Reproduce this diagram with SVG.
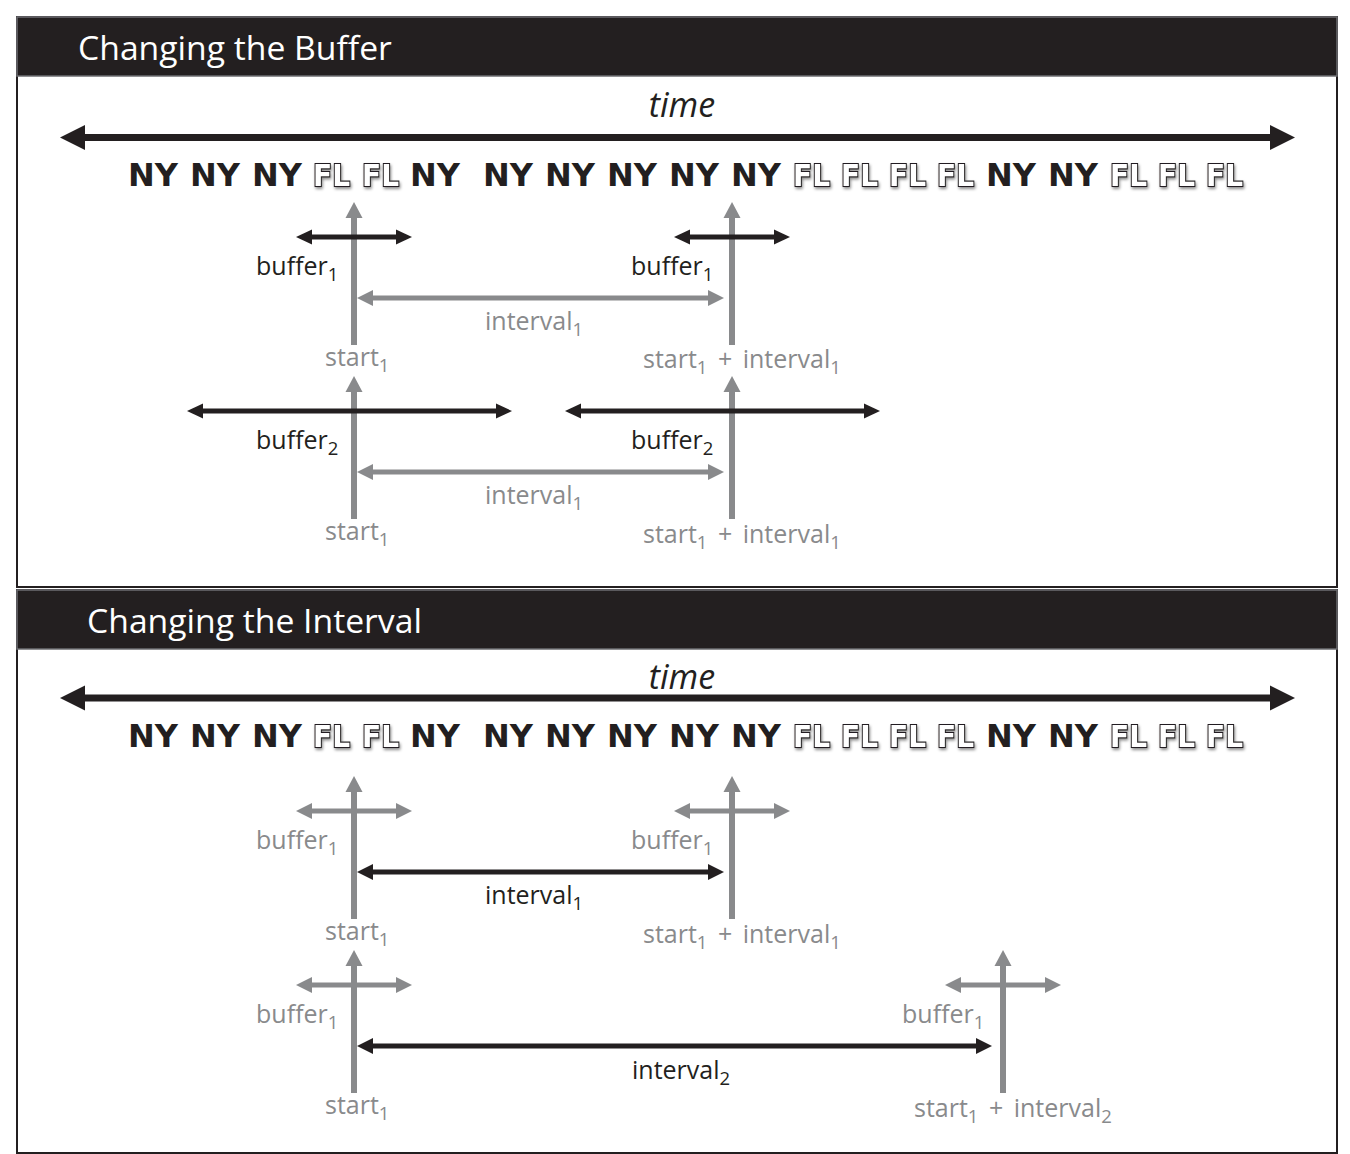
<svg xmlns="http://www.w3.org/2000/svg" width="1350" height="1154" viewBox="0 0 1350 1154">
<defs>
<style>
.hdr{fill:#231f20;stroke:#6d6e71;stroke-width:1.5}
.panel{fill:#ffffff;stroke:#231f20;stroke-width:2}
.htxt{font-family:"Open Sans","Noto Sans",sans-serif;font-size:33.7px;fill:#ffffff}
.time{font-family:"Open Sans","Noto Sans",sans-serif;font-style:italic;font-size:34px;fill:#231f20}
.ny{font-family:"DejaVu Sans",sans-serif;font-weight:bold;font-size:32px;fill:#231f20}
.fl{font-family:"DejaVu Sans",sans-serif;font-weight:bold;font-size:31px;fill:#ffffff;stroke:#231f20;stroke-width:2.2;paint-order:stroke}
.lbl{font-family:"Open Sans","Noto Sans",sans-serif;font-size:25px}
.blk{fill:#231f20}
.gry{fill:#898a8c}
.sub{font-size:18.5px}
.plus{word-spacing:4px}
.lb{stroke:#231f20;stroke-width:5;fill:none}
.lg{stroke:#898a8c;stroke-width:5;fill:none}
.lv{stroke:#898a8c;stroke-width:6;fill:none}
.lt{stroke:#231f20;stroke-width:7;fill:none}
</style>
<marker id="mBig" markerUnits="userSpaceOnUse" viewBox="0 -13 26 26" markerWidth="26" markerHeight="26" refX="0" refY="0" orient="auto-start-reverse"><path d="M0,-12.5 L25,0 L0,12.5 z" fill="#231f20"/></marker>
<marker id="mBlk" markerUnits="userSpaceOnUse" viewBox="0 -9 17 18" markerWidth="17" markerHeight="18" refX="0" refY="0" orient="auto-start-reverse"><path d="M0,-7.5 L16,0 L0,7.5 z" fill="#231f20"/></marker>
<marker id="mBlkI" markerUnits="userSpaceOnUse" viewBox="0 -9 17 18" markerWidth="17" markerHeight="18" refX="0" refY="0" orient="auto-start-reverse"><path d="M0,-8 L16,0 L0,8 z" fill="#231f20"/></marker>
<marker id="mGry" markerUnits="userSpaceOnUse" viewBox="0 -9 17 18" markerWidth="17" markerHeight="18" refX="0" refY="0" orient="auto-start-reverse"><path d="M0,-8 L16,0 L0,8 z" fill="#898a8c"/></marker>
<marker id="mGryV" markerUnits="userSpaceOnUse" viewBox="0 -9 17 18" markerWidth="17" markerHeight="18" refX="0" refY="0" orient="auto-start-reverse"><path d="M0,-8.5 L16,0 L0,8.5 z" fill="#898a8c"/></marker>
<filter id="sh" x="-20%" y="-20%" width="140%" height="150%">
<feGaussianBlur in="SourceAlpha" stdDeviation="1.5" result="b"/>
<feOffset in="b" dx="1" dy="2" result="o"/>
<feFlood flood-color="#000000" flood-opacity="0.45"/>
<feComposite in2="o" operator="in" result="s"/>
<feMerge><feMergeNode in="s"/><feMergeNode in="SourceGraphic"/></feMerge>
</filter>
</defs>
<rect width="1350" height="1154" fill="#ffffff"/>

<g id="panel-buffer">
<rect class="panel" x="17" y="17" width="1320" height="570"/>
<rect class="hdr" x="17" y="17" width="1320" height="59"/>
<text class="htxt" x="78" y="60">Changing the Buffer</text>
</g>
<g id="panel-interval">
<rect class="panel" x="17" y="590" width="1320" height="563"/>
<rect class="hdr" x="17" y="590" width="1320" height="59"/>
<text class="htxt" x="87" y="633">Changing the Interval</text>
</g>

<g id="timeline-1">
<text class="time" x="682" y="117" text-anchor="middle">time</text>
<text class="ny" y="186"><tspan x="128">NY</tspan><tspan x="190">NY</tspan><tspan x="252">NY</tspan><tspan x="410">NY</tspan><tspan x="483">NY</tspan><tspan x="545">NY</tspan><tspan x="607">NY</tspan><tspan x="669">NY</tspan><tspan x="731">NY</tspan><tspan x="986">NY</tspan><tspan x="1048">NY</tspan></text>
<g filter="url(#sh)">
<text class="fl" x="313" y="186" textLength="37" lengthAdjust="spacingAndGlyphs">FL</text>
<text class="fl" x="362" y="186" textLength="37" lengthAdjust="spacingAndGlyphs">FL</text>
<text class="fl" x="793" y="186" textLength="37" lengthAdjust="spacingAndGlyphs">FL</text>
<text class="fl" x="841" y="186" textLength="37" lengthAdjust="spacingAndGlyphs">FL</text>
<text class="fl" x="889" y="186" textLength="37" lengthAdjust="spacingAndGlyphs">FL</text>
<text class="fl" x="937" y="186" textLength="37" lengthAdjust="spacingAndGlyphs">FL</text>
<text class="fl" x="1110" y="186" textLength="37" lengthAdjust="spacingAndGlyphs">FL</text>
<text class="fl" x="1158" y="186" textLength="37" lengthAdjust="spacingAndGlyphs">FL</text>
<text class="fl" x="1206" y="186" textLength="37" lengthAdjust="spacingAndGlyphs">FL</text>
</g>
</g>

<g id="timeline-2">
<text class="time" x="682" y="689" text-anchor="middle">time</text>
<text class="ny" y="747"><tspan x="128">NY</tspan><tspan x="190">NY</tspan><tspan x="252">NY</tspan><tspan x="410">NY</tspan><tspan x="483">NY</tspan><tspan x="545">NY</tspan><tspan x="607">NY</tspan><tspan x="669">NY</tspan><tspan x="731">NY</tspan><tspan x="986">NY</tspan><tspan x="1048">NY</tspan></text>
<g filter="url(#sh)">
<text class="fl" x="313" y="747" textLength="37" lengthAdjust="spacingAndGlyphs">FL</text>
<text class="fl" x="362" y="747" textLength="37" lengthAdjust="spacingAndGlyphs">FL</text>
<text class="fl" x="793" y="747" textLength="37" lengthAdjust="spacingAndGlyphs">FL</text>
<text class="fl" x="841" y="747" textLength="37" lengthAdjust="spacingAndGlyphs">FL</text>
<text class="fl" x="889" y="747" textLength="37" lengthAdjust="spacingAndGlyphs">FL</text>
<text class="fl" x="937" y="747" textLength="37" lengthAdjust="spacingAndGlyphs">FL</text>
<text class="fl" x="1110" y="747" textLength="37" lengthAdjust="spacingAndGlyphs">FL</text>
<text class="fl" x="1158" y="747" textLength="37" lengthAdjust="spacingAndGlyphs">FL</text>
<text class="fl" x="1206" y="747" textLength="37" lengthAdjust="spacingAndGlyphs">FL</text>
</g>
</g>

<g id="connectors">
<path class="lt" d="M85,137.5 H1270" marker-start="url(#mBig)" marker-end="url(#mBig)"/>
<path class="lt" d="M85,698 H1270" marker-start="url(#mBig)" marker-end="url(#mBig)"/>
<path class="lv" d="M354,345 V218" marker-end="url(#mGryV)"/>
<path class="lv" d="M732,345 V218" marker-end="url(#mGryV)"/>
<path class="lb" d="M312,237 H396" marker-start="url(#mBlk)" marker-end="url(#mBlk)"/>
<path class="lb" d="M690,237 H774" marker-start="url(#mBlk)" marker-end="url(#mBlk)"/>
<path class="lg" d="M373,298 H708" marker-start="url(#mGry)" marker-end="url(#mGry)"/>
<path class="lv" d="M354,519 V392" marker-end="url(#mGryV)"/>
<path class="lv" d="M732,519 V392" marker-end="url(#mGryV)"/>
<path class="lb" d="M203,411 H496" marker-start="url(#mBlk)" marker-end="url(#mBlk)"/>
<path class="lb" d="M581,411 H864" marker-start="url(#mBlk)" marker-end="url(#mBlk)"/>
<path class="lg" d="M373,472 H708" marker-start="url(#mGry)" marker-end="url(#mGry)"/>
<path class="lv" d="M354,919 V792" marker-end="url(#mGryV)"/>
<path class="lv" d="M732,919 V792" marker-end="url(#mGryV)"/>
<path class="lg" d="M312,811 H396" marker-start="url(#mGry)" marker-end="url(#mGry)"/>
<path class="lg" d="M690,811 H774" marker-start="url(#mGry)" marker-end="url(#mGry)"/>
<path class="lb" d="M373,872 H708" marker-start="url(#mBlkI)" marker-end="url(#mBlkI)"/>
<path class="lv" d="M354,1093 V966" marker-end="url(#mGryV)"/>
<path class="lv" d="M1003,1093 V966" marker-end="url(#mGryV)"/>
<path class="lg" d="M312,985 H396" marker-start="url(#mGry)" marker-end="url(#mGry)"/>
<path class="lg" d="M961,985 H1045" marker-start="url(#mGry)" marker-end="url(#mGry)"/>
<path class="lb" d="M373,1046 H976" marker-start="url(#mBlkI)" marker-end="url(#mBlkI)"/>
</g>

<g id="labels-1">
<text class="lbl blk" x="256" y="275">buffer<tspan class="sub" dy="6">1</tspan></text>
<text class="lbl blk" x="631" y="275">buffer<tspan class="sub" dy="6">1</tspan></text>
<text class="lbl gry" x="485" y="330">interval<tspan class="sub" dy="6">1</tspan></text>
<text class="lbl gry" x="325" y="366">start<tspan class="sub" dy="6">1</tspan></text>
<text class="lbl gry" x="643" y="368">start<tspan class="sub" dy="6">1</tspan><tspan class="plus" dy="-6"> + interval</tspan><tspan class="sub" dy="6">1</tspan></text>
<text class="lbl blk" x="256" y="449">buffer<tspan class="sub" dy="6">2</tspan></text>
<text class="lbl blk" x="631" y="449">buffer<tspan class="sub" dy="6">2</tspan></text>
<text class="lbl gry" x="485" y="504">interval<tspan class="sub" dy="6">1</tspan></text>
<text class="lbl gry" x="325" y="540">start<tspan class="sub" dy="6">1</tspan></text>
<text class="lbl gry" x="643" y="543">start<tspan class="sub" dy="6">1</tspan><tspan class="plus" dy="-6"> + interval</tspan><tspan class="sub" dy="6">1</tspan></text>
</g>

<g id="labels-2">
<text class="lbl gry" x="256" y="849">buffer<tspan class="sub" dy="6">1</tspan></text>
<text class="lbl gry" x="631" y="849">buffer<tspan class="sub" dy="6">1</tspan></text>
<text class="lbl blk" x="485" y="904">interval<tspan class="sub" dy="6">1</tspan></text>
<text class="lbl gry" x="325" y="940">start<tspan class="sub" dy="6">1</tspan></text>
<text class="lbl gry" x="643" y="943">start<tspan class="sub" dy="6">1</tspan><tspan class="plus" dy="-6"> + interval</tspan><tspan class="sub" dy="6">1</tspan></text>
<text class="lbl gry" x="256" y="1023">buffer<tspan class="sub" dy="6">1</tspan></text>
<text class="lbl gry" x="902" y="1023">buffer<tspan class="sub" dy="6">1</tspan></text>
<text class="lbl blk" x="632" y="1079">interval<tspan class="sub" dy="6">2</tspan></text>
<text class="lbl gry" x="325" y="1114">start<tspan class="sub" dy="6">1</tspan></text>
<text class="lbl gry" x="914" y="1117">start<tspan class="sub" dy="6">1</tspan><tspan class="plus" dy="-6"> + interval</tspan><tspan class="sub" dy="6">2</tspan></text>
</g>
</svg>
